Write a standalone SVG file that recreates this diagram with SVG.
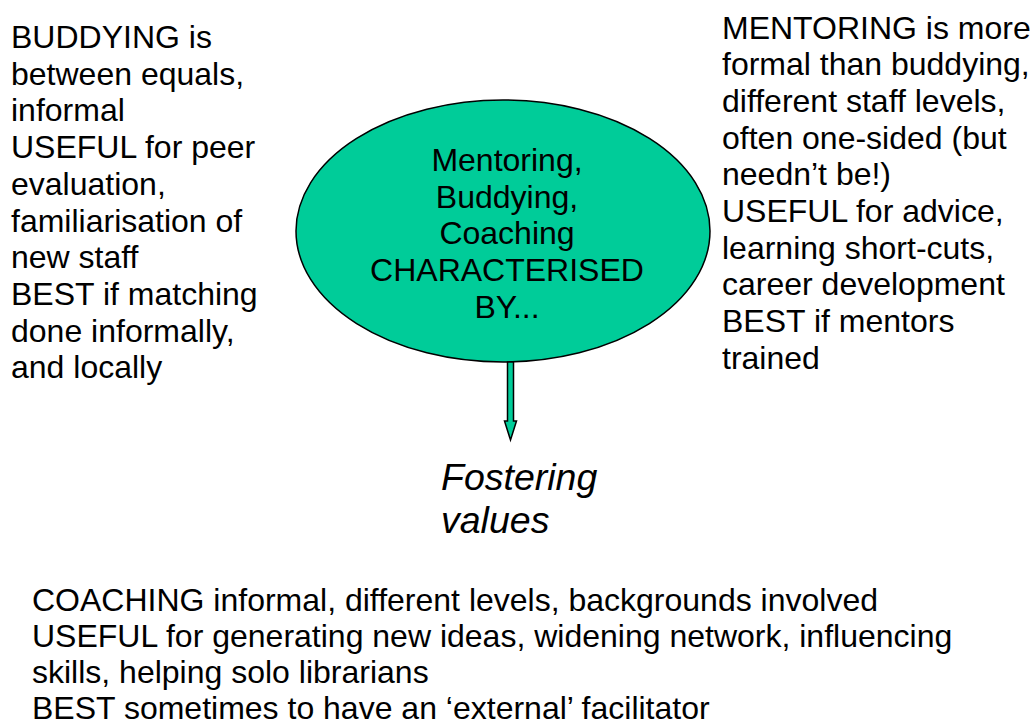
<svg xmlns="http://www.w3.org/2000/svg" width="1034" height="724" viewBox="0 0 1034 724">
<style>
text{font-family:"Liberation Sans",Arial,sans-serif;font-size:32px;fill:#000}
.c{text-anchor:middle}
.i{font-style:italic;font-size:37.5px}
</style>
<rect width="1034" height="724" fill="#fff"/>
<g id="buddying">
<text x="11" y="48">BUDDYING is</text>
<text x="11" y="84.7">between equals,</text>
<text x="11" y="121.4">informal</text>
<text x="11" y="158.1">USEFUL for peer</text>
<text x="11" y="194.8">evaluation,</text>
<text x="11" y="231.5">familiarisation of</text>
<text x="11" y="268.2">new staff</text>
<text x="11" y="304.9">BEST if matching</text>
<text x="11" y="341.6">done informally,</text>
<text x="11" y="378.3">and locally</text>
</g>
<g id="mentoring">
<text x="722" y="38.5">MENTORING is more</text>
<text x="722" y="75.2">formal than buddying,</text>
<text x="722" y="111.9">different staff levels,</text>
<text x="722" y="148.6">often one-sided (but</text>
<text x="722" y="185.3">needn’t be!)</text>
<text x="722" y="222">USEFUL for advice,</text>
<text x="722" y="258.7">learning short-cuts,</text>
<text x="722" y="295.4">career development</text>
<text x="722" y="332.1">BEST if mentors</text>
<text x="722" y="368.8">trained</text>
</g>
<g id="centre">
<ellipse cx="503" cy="231" rx="207" ry="131" fill="#00cc99" stroke="#000" stroke-width="1.5"/>
<text class="c" x="507" y="171">Mentoring,</text>
<text class="c" x="507" y="207.7">Buddying,</text>
<text class="c" x="507" y="244.4">Coaching</text>
<text class="c" x="507" y="281.1">CHARACTERISED</text>
<text class="c" x="507" y="317.8">BY...</text>
</g>
<g id="connectors">
<path d="M507.5,362 L513.5,362 L513.5,421 L516.5,421 L510.5,440 L504.5,421 L507.5,421 Z" fill="#00cc99" stroke="#000" stroke-width="1.5" stroke-linejoin="miter"/>
</g>
<g id="fostering">
<text class="i" x="441" y="490">Fostering</text>
<text class="i" x="441" y="533">values</text>
</g>
<g id="coaching">
<text x="32" y="611">COACHING informal, different levels, backgrounds involved</text>
<text x="32" y="647">USEFUL for generating new ideas, widening network, influencing</text>
<text x="32" y="683">skills, helping solo librarians</text>
<text x="32" y="719">BEST sometimes to have an ‘external’ facilitator</text>
</g>
</svg>
